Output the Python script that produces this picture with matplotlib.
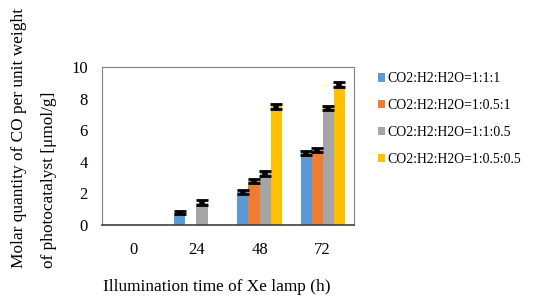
import matplotlib
matplotlib.use("Agg")
import matplotlib.pyplot as plt
import numpy as np

plt.rcParams['font.family'] = ['Liberation Serif', 'DejaVu Serif']

categories = ['0', '24', '48', '72']
series_names = ['CO2:H2:H2O=1:1:1', 'CO2:H2:H2O=1:0.5:1',
                'CO2:H2:H2O=1:1:0.5', 'CO2:H2:H2O=1:0.5:0.5']
s1 = [0.0, 0.78, 2.08, 4.57]
s2 = [0.0, 0.0, 2.78, 4.74]
s3 = [0.0, 1.41, 3.26, 7.41]
s4 = [0.0, 0.0, 7.52, 8.88]
e1 = [0.0, 0.12, 0.15, 0.12]
e2 = [0.0, 0.0, 0.15, 0.15]
e3 = [0.0, 0.15, 0.15, 0.15]
e4 = [0.0, 0.0, 0.15, 0.15]
colors = ['#5B9BD5', '#ED7D31', '#A5A5A5', '#FFC000']

fig = plt.figure(figsize=(5.39, 3.06), dpi=100)
ax = fig.add_axes([0.189, 0.265, 0.468, 0.516])

x = np.arange(len(categories))
w = 0.175
for i, (vals, errs) in enumerate(zip([s1, s2, s3, s4], [e1, e2, e3, e4])):
    pos = x + (i - 1.5) * w
    ax.bar(pos, vals, width=w, color=colors[i], label=series_names[i], zorder=2)
    mask = np.array(vals) > 0
    ax.errorbar(pos[mask], np.array(vals)[mask], yerr=np.array(errs)[mask],
                fmt='none', ecolor='black', elinewidth=4, capsize=4,
                capthick=2, zorder=3)

ax.set_ylim(0, 10)
ax.set_xlim(-0.5, 3.5)
ax.set_yticks([0, 2, 4, 6, 8, 10])
ax.set_xticks(x)
ax.set_xticklabels(categories)
ax.tick_params(axis='both', length=0, labelsize=12)
ax.tick_params(axis='x', pad=12)
ax.tick_params(axis='y', pad=10)
for s in ['top', 'right', 'left']:
    ax.spines[s].set_color('#808080')
    ax.spines[s].set_linewidth(0.8)
ax.spines['bottom'].set_color('#404040')
ax.spines['bottom'].set_linewidth(1.2)

fig.text(0.036, 0.124, 'Molar quantity of CO per unit weight', rotation=90,
         ha='center', va='bottom', fontsize=12.4)
fig.text(0.091, 0.124, 'of photocatalyst [\u03bcmol/g]', rotation=90,
         ha='center', va='bottom', fontsize=12.4)
fig.text(0.403, 0.062, 'Illumination time of Xe lamp (h)', ha='center',
         va='center', fontsize=12.4)

fig.legend(loc='upper left', bbox_to_anchor=(0.683, 0.795), frameon=False,
           fontsize=9.9, handlelength=0.55, handleheight=0.55,
           handletextpad=0.15, labelspacing=1.0, borderpad=0.2)

fig.savefig('out.png', dpi=100)
